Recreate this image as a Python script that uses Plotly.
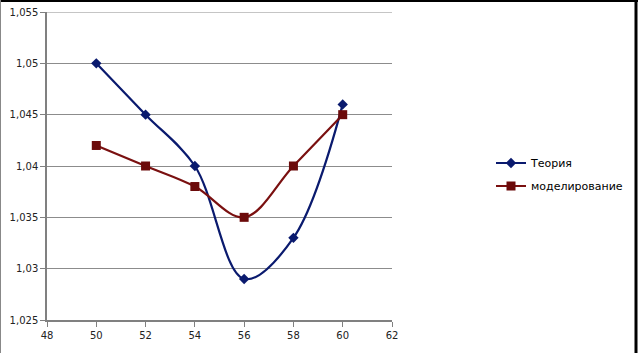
import plotly.graph_objects as go

x_vals = [50, 52, 54, 56, 58, 60]
teoriya = [1.05, 1.045, 1.04, 1.029, 1.033, 1.046]
modelirovanie = [1.042, 1.04, 1.038, 1.035, 1.04, 1.045]
series_names = ["Теория", "моделирование"]
y_ticks = [1.025, 1.03, 1.035, 1.04, 1.045, 1.05, 1.055]
y_tick_text = ["1,025", "1,03", "1,035", "1,04", "1,045", "1,05", "1,055"]
x_ticks = [48, 50, 52, 54, 56, 58, 60, 62]

fig = go.Figure()
fig.add_trace(go.Scatter(
    x=x_vals, y=teoriya, name=series_names[0], mode="lines+markers",
    line=dict(color="#0a1a6e", width=2.2, shape="spline", smoothing=1.0),
    marker=dict(symbol="diamond", size=8, color="#0a1a6e"),
    legend="legend",
))
fig.add_trace(go.Scatter(
    x=x_vals, y=modelirovanie, name=series_names[1], mode="lines+markers",
    line=dict(color="#7a1010", width=2.2, shape="spline", smoothing=1.0),
    marker=dict(symbol="square", size=9, color="#6b0a0a"),
    legend="legend2",
))

leg_common = dict(xanchor="left", yanchor="middle",
                  font=dict(size=11, family="DejaVu Sans", color="black"),
                  bgcolor="rgba(0,0,0,0)", itemwidth=30)

PW, PH, L, T = 345, 308, 47, 12
def px(x):
    return (x - L) / PW
def py(y):
    return 1 - (y - T) / PH

fig.update_layout(
    width=638, height=353,
    margin=dict(l=L, r=638 - L - PW, t=T, b=353 - T - PH, autoexpand=False),
    paper_bgcolor="white", plot_bgcolor="white",
    font=dict(family="DejaVu Sans", size=10, color="black"),
    showlegend=True,
    legend=dict(x=px(491), y=py(163), **leg_common),
    legend2=dict(x=px(491), y=py(186), **leg_common),
    xaxis=dict(range=[48, 62], tickvals=x_ticks, showgrid=False,
               showline=True, linecolor="#808080", linewidth=1.5,
               ticks="outside", ticklen=5, tickcolor="#808080",
               zeroline=False, tickfont=dict(size=10, color="#222222"),
               automargin=False),
    yaxis=dict(range=[1.025, 1.055], tickvals=y_ticks, ticktext=y_tick_text,
               showgrid=True, gridcolor="#8c8c8c", gridwidth=1,
               showline=True, linecolor="#808080", linewidth=1.5,
               ticks="outside", ticklen=5, tickcolor="#808080",
               zeroline=False, tickfont=dict(size=10, color="#222222"),
               automargin=False),
    shapes=[
        dict(type="line", xref="x domain", yref="y", x0=0, x1=1,
             y0=y_ticks[-1], y1=y_ticks[-1], line=dict(color="#8c8c8c", width=1),
             layer="below"),
        dict(type="line", xref="paper", yref="paper", x0=px(0), x1=px(638),
             y0=py(1), y1=py(1), line=dict(color="black", width=2), layer="above"),
        dict(type="line", xref="paper", yref="paper", x0=px(636), x1=px(636),
             y0=py(0), y1=py(353), line=dict(color="black", width=3), layer="above"),
        dict(type="line", xref="paper", yref="paper", x0=px(0.5), x1=px(0.5),
             y0=py(0), y1=py(353), line=dict(color="#888888", width=1), layer="above"),
    ],
)

fig.write_html("out.html", config={"displayModeBar": False},
               post_script="document.body.style.margin='0';document.body.style.overflow='hidden';")
